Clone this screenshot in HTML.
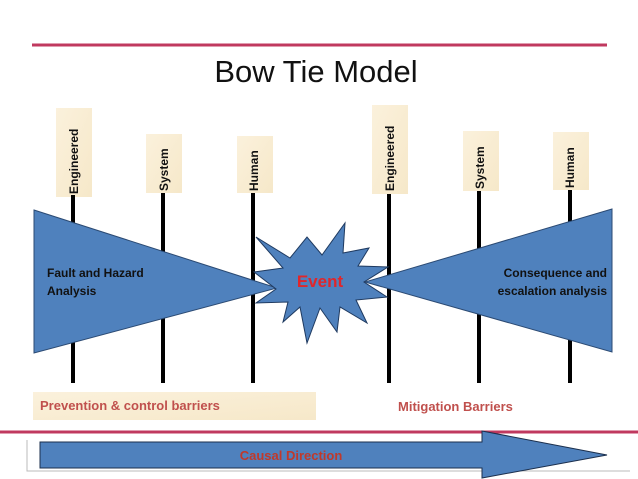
<!DOCTYPE html>
<html><head><style>
body{margin:0;background:#fff;}
svg{display:block;font-family:"Liberation Sans",sans-serif;}
</style></head><body>
<svg width="638" height="479" viewBox="0 0 638 479">
<defs><linearGradient id="tan" x1="0" y1="0" x2="1" y2="1"><stop offset="0" stop-color="#fbf1dc"/><stop offset="1" stop-color="#f6e8c9"/></linearGradient></defs>
<line x1="32" y1="45" x2="607" y2="45" stroke="#c0395f" stroke-width="3"/>
<text x="316" y="82" font-size="31" text-anchor="middle" fill="#111">Bow Tie Model</text>
<g fill="url(#tan)">
<rect x="56" y="108" width="36" height="89"/><rect x="146" y="134" width="36" height="59"/><rect x="237" y="136" width="36" height="57"/>
<rect x="372" y="105" width="36" height="89"/><rect x="463" y="131" width="36" height="60"/><rect x="553" y="132" width="36" height="58"/>
</g>
<g font-size="12" font-weight="bold" fill="#111">
<text transform="translate(78,194) rotate(-90)">Engineered</text>
<text transform="translate(168,191) rotate(-90)">System</text>
<text transform="translate(258,191) rotate(-90)">Human</text>
<text transform="translate(394,191) rotate(-90)">Engineered</text>
<text transform="translate(484,189) rotate(-90)">System</text>
<text transform="translate(574,188) rotate(-90)">Human</text>
</g>
<g stroke="#000" stroke-width="4">
<line x1="73" y1="195" x2="73" y2="383"/><line x1="163" y1="193" x2="163" y2="383"/><line x1="253" y1="193" x2="253" y2="383"/>
<line x1="389" y1="194" x2="389" y2="383"/><line x1="479" y1="191" x2="479" y2="383"/><line x1="570" y1="190" x2="570" y2="383"/>
</g>
<polygon points="34,210 277,288 34,353" fill="#4f81bd" stroke="#2b4a73" stroke-width="1"/>
<polygon points="612,209 365,282 612,352" fill="#4f81bd" stroke="#2b4a73" stroke-width="1"/>
<polygon points="256,237 290,258 307,237 322,255 345,223 343,253 369,248 358,266 388,267 364,282 387,297 356,300 367,323 340,307 337,332 320,308 307,343 300,307 283,322 288,302 256,303 276,289 254,272 283,268" fill="#4f81bd" stroke="#1f3a60" stroke-width="1"/>
<text x="320" y="287" font-size="17" font-weight="bold" fill="#e0262b" text-anchor="middle">Event</text>
<g font-size="12" font-weight="bold" fill="#111">
<text x="47" y="277">Fault and Hazard</text><text x="47" y="295">Analysis</text>
<text x="607" y="277" text-anchor="end">Consequence and</text><text x="607" y="295" text-anchor="end">escalation analysis</text>
</g>
<rect x="33" y="392" width="283" height="28" fill="url(#tan)"/>
<text x="40" y="410" font-size="13" font-weight="bold" fill="#c0504d">Prevention &amp; control barriers</text>
<text x="398" y="411" font-size="13" font-weight="bold" fill="#c0504d">Mitigation Barriers</text>
<line x1="0" y1="432" x2="638" y2="432" stroke="#c0395f" stroke-width="3"/>
<polyline points="27,440 27,471 630,471" fill="none" stroke="#bbb" stroke-width="1"/>
<polygon points="40,442 482,442 482,431 607,455 482,478 482,468 40,468" fill="#4f81bd" stroke="#1b2f4d" stroke-width="1"/>
<text x="291" y="460" font-size="13" font-weight="bold" fill="#c0392b" text-anchor="middle">Causal Direction</text>
</svg>
</body></html>
